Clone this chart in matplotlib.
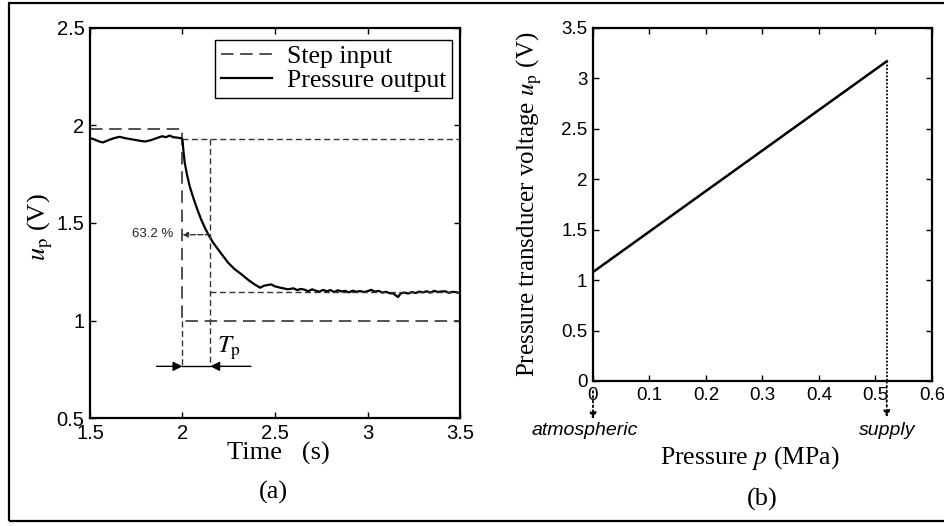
import matplotlib
matplotlib.use("Agg")
import matplotlib.pyplot as plt
from matplotlib.patches import Rectangle
from matplotlib.ticker import FormatStrFormatter

plt.rcParams['font.family'] = 'Liberation Serif'
plt.rcParams['mathtext.fontset'] = 'stix'

# (a) step response data
t_out = [1.50, 1.52, 1.55, 1.57, 1.60, 1.63, 1.66, 1.69, 1.72, 1.75, 1.78, 1.80,
         1.83, 1.86, 1.89, 1.91, 1.93, 1.95, 1.97, 1.99, 2.00,
         2.004, 2.012, 2.025, 2.04, 2.06, 2.08, 2.10, 2.12, 2.14, 2.165, 2.193, 2.22,
         2.247, 2.28, 2.32, 2.36, 2.39, 2.42, 2.44, 2.46, 2.48, 2.50, 2.53, 2.57,
         2.60, 2.62, 2.64, 2.66, 2.68, 2.70, 2.72, 2.74, 2.76, 2.78, 2.80, 2.82,
         2.84, 2.86, 2.88, 2.90, 2.92, 2.94, 2.96, 2.98, 3.00, 3.02, 3.04, 3.06,
         3.08, 3.10, 3.12, 3.14, 3.165, 3.18, 3.20, 3.22, 3.24, 3.26, 3.28, 3.30,
         3.32, 3.34, 3.36, 3.38, 3.40, 3.42, 3.44, 3.46, 3.48, 3.50]
u_out = [1.935, 1.930, 1.918, 1.913, 1.925, 1.935, 1.942, 1.935, 1.930, 1.925, 1.920, 1.918,
         1.925, 1.935, 1.945, 1.940, 1.948, 1.940, 1.938, 1.935, 1.930,
         1.880, 1.810, 1.745, 1.685, 1.625, 1.570, 1.520, 1.478, 1.440, 1.400, 1.364, 1.330,
         1.296, 1.265, 1.236, 1.205, 1.185, 1.168, 1.178, 1.182, 1.185, 1.175, 1.168, 1.160,
         1.165, 1.156, 1.162, 1.158, 1.150, 1.160, 1.153, 1.148, 1.157, 1.150, 1.156, 1.146,
         1.155, 1.149, 1.152, 1.144, 1.153, 1.147, 1.151, 1.146, 1.150, 1.157, 1.148, 1.152,
         1.143, 1.147, 1.140, 1.138, 1.120, 1.140, 1.143, 1.138, 1.146, 1.141, 1.148, 1.144,
         1.150, 1.143, 1.152, 1.146, 1.149, 1.150, 1.142, 1.147, 1.145, 1.140]
t_step = [1.5, 2.0, 2.0, 3.5]
u_step = [1.98, 1.98, 1.0, 1.0]
u_start = 1.93
u_end = 1.145
u_632 = 1.44
t_0 = 2.0
t_p = 2.15
u_arrow = 0.765

# (b) transducer calibration
p_cal = [0.0, 0.52]
u_cal = [1.08, 3.17]

fig = plt.figure(figsize=(9.45, 5.26), dpi=100)
ax1 = fig.add_axes([0.0952, 0.2053, 0.3916, 0.7415])
ax2 = fig.add_axes([0.6275, 0.2757, 0.3587, 0.6711])

gray = '#333333'
short = (0, (4.3, 2.5))

ax1.plot(t_step, u_step, color=gray, lw=1.2, linestyle=(0, (7.5, 4)), label='Step input')
ax1.plot(t_out, u_out, color='black', lw=1.6, label='Pressure output')
ax1.plot([t_0, 3.5], [u_start, u_start], color=gray, lw=1.0, linestyle=short)
ax1.plot([t_p, t_p], [u_start, u_arrow], color=gray, lw=1.0, linestyle=short)
ax1.plot([t_p, 3.5], [u_end, u_end], color=gray, lw=1.0, linestyle=short)
ax1.plot([t_0, t_0], [1.0, u_arrow], color=gray, lw=1.0, linestyle=short)
ax1.annotate('', xy=(t_0, u_632), xytext=(t_p, u_632),
             arrowprops=dict(arrowstyle='-|>', color=gray, lw=1.0, linestyle='--',
                             mutation_scale=8, shrinkA=0, shrinkB=0))
ax1.text(1.95, u_632 + 0.005, '63.2 %', family='Liberation Sans', fontsize=9.5,
         ha='right', va='center', color='#222222')
ax1.plot([t_0, t_p], [u_arrow, u_arrow], color='black', lw=1.0)
ax1.annotate('', xy=(t_0, u_arrow), xytext=(1.86, u_arrow),
             arrowprops=dict(arrowstyle='-|>', color='black', lw=1.0,
                             mutation_scale=14, shrinkA=0, shrinkB=0))
ax1.annotate('', xy=(t_p, u_arrow), xytext=(2.37, u_arrow),
             arrowprops=dict(arrowstyle='-|>', color='black', lw=1.0,
                             mutation_scale=14, shrinkA=0, shrinkB=0))
ax1.text(2.25, 0.857, r'$T_\mathrm{p}$', fontsize=18, ha='center', va='center')

ax1.set_xlim(1.5, 3.5)
ax1.set_ylim(0.5, 2.5)
ax1.set_xticks([1.5, 2, 2.5, 3, 3.5])
ax1.set_yticks([0.5, 1, 1.5, 2, 2.5])
ax1.set_xlabel('Time   (s)', fontsize=19)
ax1.xaxis.set_label_coords(0.508, -0.092)
ax1.xaxis.label.set_va('center')
ax1.set_ylabel(r'$u_\mathrm{p}$ (V)', fontsize=19)
ax1.yaxis.set_label_coords(-0.135, 0.49)
ax1.yaxis.label.set_va('center')
ax1.text(0.496, -0.192, '(a)', transform=ax1.transAxes, fontsize=19,
         ha='center', va='center')
leg = ax1.legend(loc='upper right', bbox_to_anchor=(0.978, 0.969), borderaxespad=0,
                 fontsize=18.5, fancybox=False, edgecolor='black', framealpha=1,
                 handlelength=2.0, handletextpad=0.6, borderpad=0.2, labelspacing=0.05)
leg.get_frame().set_linewidth(1.0)

ax2.plot(p_cal, u_cal, color='black', lw=1.8)
ax2.plot([0.52, 0.52], [u_cal[1], 0], color='black', lw=1.3, linestyle=(0, (1, 1)))
ax2.annotate('', xy=(0.52, -0.36), xytext=(0.52, 0.0), annotation_clip=False,
             arrowprops=dict(arrowstyle='-|>', color='black', lw=1.3, linestyle=':',
                             mutation_scale=9, shrinkA=0, shrinkB=0))
ax2.annotate('', xy=(0.0, -0.38), xytext=(0.0, -0.1), annotation_clip=False,
             arrowprops=dict(arrowstyle='-|>', color='black', lw=1.3, linestyle=':',
                             mutation_scale=9, shrinkA=0, shrinkB=0))
ax2.text(-0.014, -0.49, 'atmospheric', family='Liberation Sans', style='italic',
         fontsize=14, ha='center', va='center', clip_on=False)
ax2.text(0.52, -0.49, 'supply', family='Liberation Sans', style='italic',
         fontsize=14, ha='center', va='center', clip_on=False)

ax2.set_xlim(0, 0.6)
ax2.set_ylim(0, 3.5)
ax2.set_xticks([0, 0.1, 0.2, 0.3, 0.4, 0.5, 0.6])
ax2.set_yticks([0, 0.5, 1, 1.5, 2, 2.5, 3, 3.5])
ax2.set_xlabel(r'Pressure $p$ (MPa)', fontsize=18.5)
ax2.xaxis.set_label_coords(0.463, -0.218)
ax2.xaxis.label.set_va('center')
ax2.set_ylabel(r'Pressure transducer voltage $u_\mathrm{p}$ (V)', fontsize=18)
ax2.yaxis.set_label_coords(-0.186, 0.5)
ax2.yaxis.label.set_va('center')
ax2.text(0.5, -0.337, '(b)', transform=ax2.transAxes, fontsize=19,
         ha='center', va='center')

for ax, size in ((ax1, 14.5), (ax2, 13.5)):
    ax.xaxis.set_major_formatter(FormatStrFormatter('%g'))
    ax.yaxis.set_major_formatter(FormatStrFormatter('%g'))
    ax.tick_params(direction='in', top=True, right=True, length=4, width=1.0,
                   labelsize=size, pad=4)
    for lab in ax.get_xticklabels() + ax.get_yticklabels():
        lab.set_family('Liberation Sans')
    for s in ax.spines.values():
        s.set_linewidth(1.6)

# outer frame
fig.patches.append(Rectangle((9 / 945, 5 / 526), 1.0, 518 / 526, transform=fig.transFigure,
                             fill=False, edgecolor='black', lw=1.6))

fig.savefig('out.png', dpi=100)
